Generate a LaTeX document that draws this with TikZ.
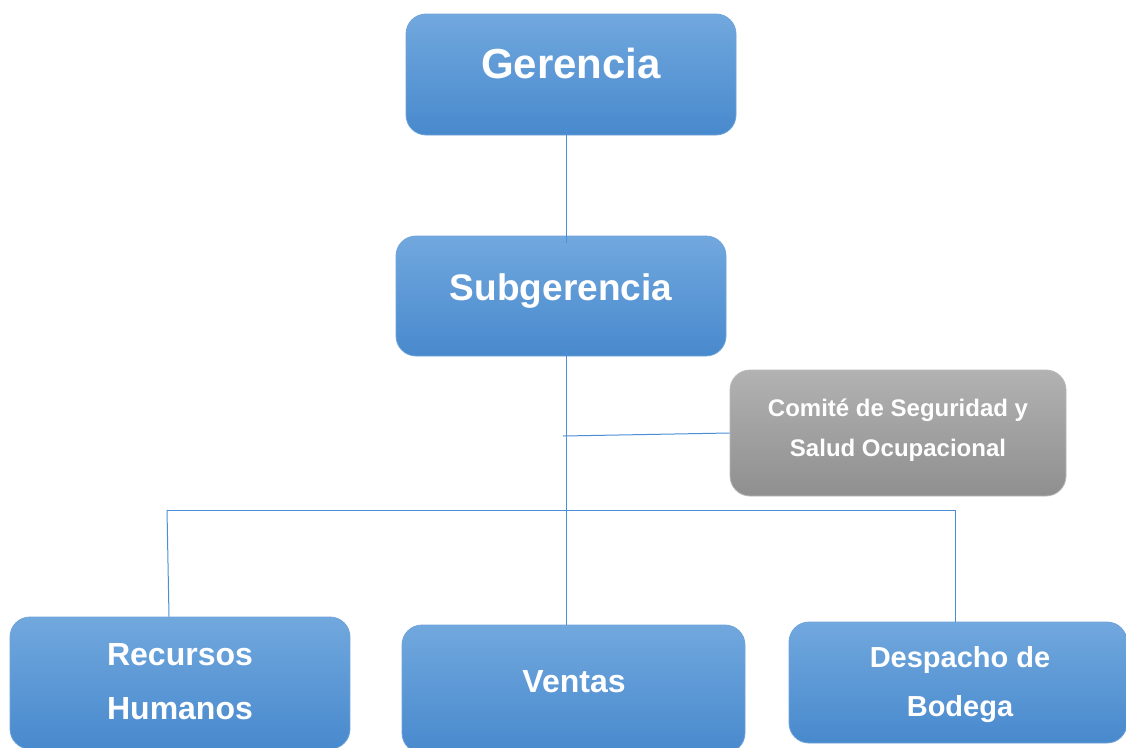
\documentclass[tikz,border=0pt]{standalone}
\usepackage{fontspec}
\setmainfont{Liberation Sans}
\definecolor{btop}{HTML}{71A8DE}
\definecolor{bbot}{HTML}{4889CD}
\definecolor{bline}{HTML}{6FA3DA}
\definecolor{gtop}{HTML}{B2B2B2}
\definecolor{gbot}{HTML}{8F8F8F}
\definecolor{gline}{HTML}{B8B8B8}
\definecolor{conncol}{HTML}{4A8FD6}
\tikzset{
  bluebox/.style={rectangle, rounded corners=20pt, top color=btop, bottom color=bbot, draw=bline, line width=0.8pt, inner sep=0pt},
  graybox/.style={rectangle, rounded corners=20pt, top color=gtop, bottom color=gbot, draw=gline, line width=0.8pt, inner sep=0pt},
  lbl/.style={text=white, font=\bfseries, align=center, inner sep=0pt},
  conn/.style={draw=conncol, line width=1pt}
}
\begin{document}
\begin{tikzpicture}[x=1pt,y=-1pt]
\useasboundingbox (0,0) rectangle (1126,747);
\fill[white] (0,0) rectangle (1126,747);
% boxes
\node[bluebox, minimum width=330pt, minimum height=121pt] (g) at (571,74.5) {};
\node[bluebox, minimum width=330pt, minimum height=120pt] (s) at (561,296) {};
\node[graybox, minimum width=336pt, minimum height=126pt] (c) at (898,433) {};
\node[bluebox, minimum width=340pt, minimum height=132pt] (rh) at (180,683) {};
\node[bluebox, minimum width=343pt, minimum height=128pt] (v) at (573.5,689) {};
\node[bluebox, minimum width=338pt, minimum height=121pt] (d) at (958,682.5) {};
% connectors
\coordinate (j1) at (563,436);
\coordinate (bl) at (167,510);
\coordinate (br) at (955,510);
\draw[conn] ([xshift=-5pt,yshift=8pt]g.south) -- ([xshift=5pt,yshift=-7pt]s.north);
\draw[conn] ([xshift=5pt,yshift=8pt]s.south) -- ([xshift=-7.5pt]v.north);
\draw[conn] (c.west) -- (j1);
\draw[conn] (bl) -- (br);
\draw[conn] (bl) -- ([xshift=-11pt]rh.north);
\draw[conn] (br) -- ([xshift=-3pt]d.north);
% labels
\node[lbl, font=\bfseries\fontsize{42}{50}\selectfont] (tg) at (571,63) {Gerencia};
\node[lbl, font=\bfseries\fontsize{37}{44}\selectfont] (ts) at (561,291) {Subgerencia};
\node[lbl, font=\bfseries\fontsize{24}{40}\selectfont] (tc) at (898,430) {Comité de Seguridad y\\Salud Ocupacional};
\node[lbl, font=\bfseries\fontsize{32}{54}\selectfont] (trh) at (180,682) {Recursos\\Humanos};
\node[lbl, font=\bfseries\fontsize{32}{40}\selectfont] (tv) at (574,682) {Ventas};
\node[lbl, font=\bfseries\fontsize{29}{49}\selectfont] (td) at (960,685) {Despacho de\\Bodega};
\end{tikzpicture}
\end{document}
